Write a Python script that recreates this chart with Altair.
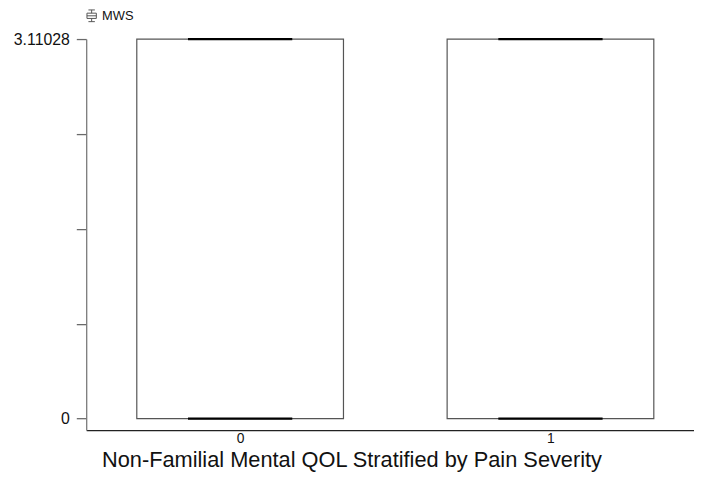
import altair as alt
import pandas as pd

# ---- data ----
categories = [0, 1]
lower_whisker = [0.0, 0.0]
q1 = [0.0, 0.0]
median = [0.0, 0.0]
q3 = [3.11028, 3.11028]
upper_whisker = [3.11028, 3.11028]
series = ["MWS", "MWS"]
y_ticks = [0, 0.77757, 1.55514, 2.33271, 3.11028]
y_labelled = [0, 3.11028]
title_text = "Non-Familial Mental QOL Stratified by Pain Severity"

df = pd.DataFrame({
    "cat": categories, "lo": lower_whisker, "q1": q1, "med": median,
    "q3": q3, "hi": upper_whisker, "series": series,
})

FONT = "Liberation Sans"
BOX_HALF = 0.333
CAP_HALF = 0.168

xscale = alt.Scale(domain=[-0.496, 1.4625], nice=False, zero=False)
yscale = alt.Scale(domain=[-0.0933, 3.11028], nice=False, zero=False)

label_expr = "(" + " || ".join(f"datum.value == {v}" for v in y_labelled) + ") ? format(datum.value, '.6~g') : ''"

base = alt.Chart(df).transform_calculate(
    bx1=f"datum.cat - {BOX_HALF}", bx2=f"datum.cat + {BOX_HALF}",
    cx1=f"datum.cat - {CAP_HALF}", cx2=f"datum.cat + {CAP_HALF}",
)

box = base.mark_rect(fill="white", strokeWidth=1.2, clip=False).encode(
    x=alt.X("bx1:Q", scale=xscale,
            axis=alt.Axis(values=categories, labelExpr="format(datum.value, 'd')",
                          ticks=False, grid=False, domainColor="#222", domainWidth=1.3,
                          labelFont=FONT, labelFontSize=14, labelColor="#111",
                          labelPadding=2, title=title_text, titleFont=FONT,
                          titleFontSize=22, titleFontWeight="normal", titleColor="#111",
                          titleX=268, titleY=37, titleAlign="center",
                          titleBaseline="alphabetic", titleAnchor="start")),
    x2="bx2:Q",
    y=alt.Y("q1:Q", scale=yscale,
            axis=alt.Axis(values=y_ticks, labelExpr=label_expr, grid=False,
                          domainColor="#7a7a7a", domainWidth=1.3, tickColor="#6a6a6a",
                          tickSize=10, tickWidth=1.3, labelFont=FONT, labelFontSize=16,
                          labelColor="#111", labelPadding=7, title=None)),
    y2="q3:Q",
    stroke=alt.Stroke("series:N", scale=alt.Scale(range=["#555555"]),
                      legend=alt.Legend(title=None, orient="none", legendX=-1, legendY=-30,
                                        padding=0, labelFont=FONT, labelFontSize=13,
                                        labelColor="#111", labelOffset=4,
                                        symbolType="M-0.55,-1H0.55M0,-1V-0.45M-0.8,-0.45H0.8V0.45H-0.8ZM-0.8,0H0.8M0,0.45V1M-0.55,1H0.55",
                                        symbolSize=140, symbolStrokeColor="#111",
                                        symbolFillColor="transparent", symbolStrokeWidth=1)),
)

med_rule = base.mark_rule(color="black", strokeWidth=2.2).encode(
    x=alt.X("cx1:Q", scale=xscale), x2="cx2:Q", y=alt.Y("med:Q", scale=yscale))

cap_rule = base.mark_rule(color="black", strokeWidth=2.2).encode(
    x=alt.X("cx1:Q", scale=xscale), x2="cx2:Q", y=alt.Y("hi:Q", scale=yscale))

chart = alt.layer(box, med_rule, cap_rule).properties(
    width=614, height=395,
    autosize=alt.AutoSizeParams(type="none"),
    padding={"left": 79, "top": 29, "right": 0, "bottom": 42},
    background="white",
).configure_view(stroke=None)

chart.save("out.html", embed_options={"renderer": "svg", "actions": False})
